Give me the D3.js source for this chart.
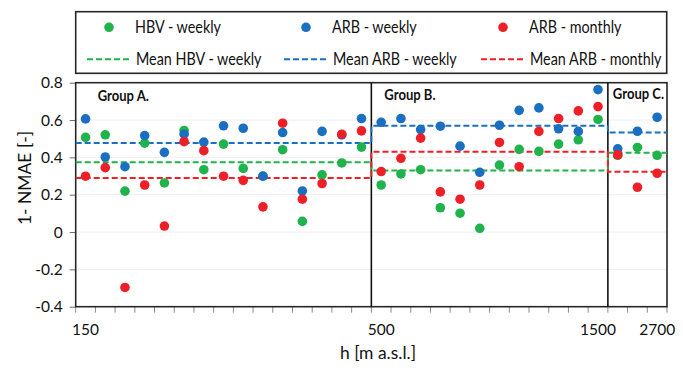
<!DOCTYPE html>
<html>
<head>
<meta charset="utf-8">
<script src="https://cdn.jsdelivr.net/npm/d3@7"></script>
<style>
  html, body { margin: 0; padding: 0; background: #fff; }
  svg { display: block; font-family: Lato, "Open Sans", sans-serif; }
</style>
</head>
<body>
<svg id="chart" width="683" height="368"></svg>
<script>
// Elevation bands and the stations in each band (in order along the x axis)
const groupNames = ["Group A.", "Group B.", "Group C."];
const groupSizes = [15, 12, 3];

// Category tick labels (elevation, m a.s.l.); blank categories carry no label
const xTickLabels = [
  "150", "", "", "", "", "", "", "", "", "", "", "", "", "", "",
  "500", "", "", "", "", "", "", "", "", "", "", "1500",
  "", "", "2700"
];

const yTickValues = [-0.4, -0.2, 0, 0.2, 0.4, 0.6, 0.8];
const yTickLabels = ["-0.4", "-0.2", "0", "0.2", "0.4", "0.6", "0.8"];

// 1 - NMAE per station
const hbvWeekly = [
  0.507, 0.521, 0.219, 0.476, 0.263, 0.544, 0.334, 0.471, 0.341, 0.300, 0.441, 0.057, 0.306, 0.370, 0.455,
  0.252, 0.311, 0.334, 0.130, 0.101, 0.020, 0.359, 0.443, 0.432, 0.471, 0.494, 0.603,
  0.411, 0.453, 0.411
];
const arbWeekly = [
  0.606, 0.402, 0.350, 0.517, 0.427, 0.524, 0.482, 0.569, 0.556, 0.299, 0.533, 0.220, 0.539, 0.520, 0.608,
  0.588, 0.608, 0.549, 0.567, 0.460, 0.320, 0.572, 0.652, 0.665, 0.553, 0.539, 0.763,
  0.446, 0.540, 0.615
];
const arbMonthly = [
  0.299, 0.345, -0.297, 0.252, 0.032, 0.484, 0.436, 0.299, 0.277, 0.135, 0.583, 0.176, 0.260, 0.524, 0.542,
  0.324, 0.395, 0.503, 0.215, 0.176, 0.252, 0.480, 0.350, 0.539, 0.608, 0.649, 0.672,
  0.414, 0.240, 0.315
];

const seriesNames = ["HBV - weekly", "ARB - weekly", "ARB - monthly"];
const seriesColors = ["#20b24b", "#1a6fc1", "#ed1f27"];
const seriesValues = [hbvWeekly, arbWeekly, arbMonthly];

// ---- layout ----
const svg = d3.select("#chart");
const plot = { left: 75.7, right: 667, top: 82.7, bottom: 306.7 };
const FONT_SX = 0.845; // horizontal squeeze so Lato reads like a condensed UI font
const INK = "#111";

const n = xTickLabels.length;
const x = d3.scaleBand().domain(d3.range(n)).range([plot.left, plot.right]).padding(0);
const cx = i => x(i) + x.bandwidth() / 2;
const y = d3.scaleLinear().domain([-0.4, 0.8]).range([plot.bottom, plot.top]);

// group start/end indices
const groups = [];
let acc = 0;
groupNames.forEach((name, g) => {
  groups.push({ name, start: acc, end: acc + groupSizes[g] });
  acc += groupSizes[g];
});
const edgeX = i => (i >= n ? plot.right : x(i));

function squeezedText(sel, tx, ty, str, opts = {}) {
  return sel.append("text")
    .attr("transform", `translate(${tx},${ty}) scale(${opts.sx ?? FONT_SX},1)`)
    .attr("text-anchor", opts.anchor || "start")
    .attr("font-size", opts.size || 17)
    .attr("font-weight", opts.weight || "normal")
    .attr("fill", opts.fill || INK)
    .text(str);
}

// ---- gridlines ----
svg.append("g")
  .selectAll("line")
  .data(yTickValues.filter(v => v > -0.4 && v < 0.8))
  .join("line")
  .attr("x1", plot.left).attr("x2", plot.right)
  .attr("y1", d => y(d)).attr("y2", d => y(d))
  .attr("stroke", "#efefef").attr("stroke-width", 1);

// ---- axes ----
const yAxis = d3.axisLeft(y)
  .tickValues(yTickValues)
  .tickFormat((d, i) => yTickLabels[i])
  .tickSize(6)
  .tickPadding(7);
const gy = svg.append("g").attr("transform", `translate(${plot.left},0)`).call(yAxis);
gy.select(".domain").remove();
gy.selectAll(".tick line").attr("stroke", "#6b6b6b");
gy.selectAll(".tick text")
  .attr("font-family", "Lato, sans-serif")
  .attr("font-size", 15.5)
  .attr("fill", INK);

// x tick labels sit under their category; tick marks go on every category boundary
const xAxis = d3.axisBottom(x)
  .tickFormat((d) => xTickLabels[d])
  .tickSize(0)
  .tickPadding(17);
const gx = svg.append("g").attr("transform", `translate(0,${plot.bottom})`).call(xAxis);
gx.select(".domain").remove();
gx.selectAll(".tick text")
  .attr("font-family", "Lato, sans-serif")
  .attr("font-size", 15.5)
  .attr("fill", INK);
svg.append("g")
  .selectAll("line")
  .data(d3.range(n + 1))
  .join("line")
  .attr("x1", edgeX).attr("x2", edgeX)
  .attr("y1", plot.bottom).attr("y2", plot.bottom + 6)
  .attr("stroke", "#8a8a8a").attr("stroke-width", 1);

// ---- plot frame and group dividers ----
svg.append("rect")
  .attr("x", plot.left).attr("y", plot.top)
  .attr("width", plot.right - plot.left).attr("height", plot.bottom - plot.top)
  .attr("fill", "none").attr("stroke", "#262626").attr("stroke-width", 1.6);
svg.append("g")
  .selectAll("line")
  .data(groups.slice(1))
  .join("line")
  .attr("x1", d => edgeX(d.start)).attr("x2", d => edgeX(d.start))
  .attr("y1", plot.top).attr("y2", plot.bottom)
  .attr("stroke", "#111").attr("stroke-width", 1.6);

// group captions, each nudged in from its band's left edge
const captionOffsets = [[22, 18.5], [13, 17.5], [5, 16]];
groups.forEach((g, k) => {
  squeezedText(svg, edgeX(g.start) + captionOffsets[k][0], plot.top + captionOffsets[k][1], g.name,
    { size: 14.5, weight: "bold", sx: 0.9 });
});

// ---- group means as dashed step lines ----
const meanLine = d3.line().x(d => d[0]).y(d => y(d[1]));
seriesValues.forEach((vals, s) => {
  const pts = [];
  groups.forEach(g => {
    const m = d3.mean(vals.slice(g.start, g.end));
    pts.push([edgeX(g.start), m], [edgeX(g.end), m]);
  });
  svg.append("path")
    .attr("d", meanLine(pts))
    .attr("fill", "none")
    .attr("stroke", seriesColors[s])
    .attr("stroke-width", 2)
    .attr("stroke-dasharray", "6,3");
});

// ---- station markers ----
seriesValues.forEach((vals, s) => {
  svg.append("g")
    .selectAll("circle")
    .data(vals)
    .join("circle")
    .attr("cx", (d, i) => cx(i))
    .attr("cy", d => y(d))
    .attr("r", 4.8)
    .attr("fill", seriesColors[s]);
});

// ---- axis titles ----
squeezedText(svg, 378, 359, "h [m a.s.l.]", { anchor: "middle", size: 18, sx: 0.97 });
svg.append("text")
  .attr("transform", "translate(31,178) rotate(-90) scale(0.97,1)")
  .attr("text-anchor", "middle")
  .attr("font-size", 18)
  .attr("fill", INK)
  .text("1- NMAE [-]");

// ---- legend ----
const legend = svg.append("g");
legend.append("rect")
  .attr("x", 75.7).attr("y", 11.7)
  .attr("width", 591).attr("height", 61.6)
  .attr("fill", "#fff").attr("stroke", "#262626").attr("stroke-width", 1.6);
const legCols = [109, 306, 503];
seriesNames.forEach((name, s) => {
  const mx = legCols[s];
  legend.append("circle")
    .attr("cx", mx).attr("cy", 27.3).attr("r", 4.8)
    .attr("fill", seriesColors[s]);
  squeezedText(legend, mx + 26, 33.2, name);
  legend.append("line")
    .attr("x1", mx - 22).attr("x2", mx + 22)
    .attr("y1", 59.3).attr("y2", 59.3)
    .attr("stroke", seriesColors[s]).attr("stroke-width", 2)
    .attr("stroke-dasharray", "6,3");
  squeezedText(legend, mx + 27, 65.2, "Mean " + name);
});
</script>
</body>
</html>
